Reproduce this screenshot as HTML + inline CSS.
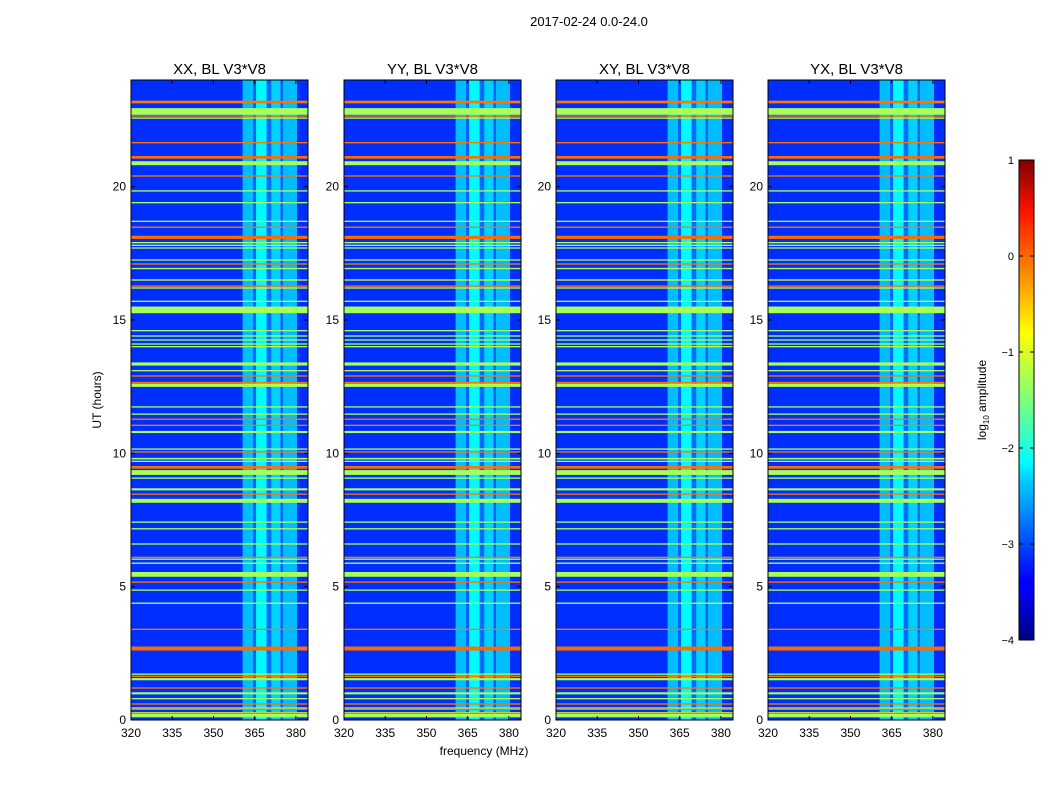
<!DOCTYPE html>
<html><head><meta charset="utf-8"><style>
body{margin:0;background:#fff;}
svg{display:block;font-family:"Liberation Sans",sans-serif;}
</style></head><body>
<svg id="fig" width="1050" height="800" viewBox="0 0 1050 800">
<defs><linearGradient id="jet" x1="0" y1="1" x2="0" y2="0">
<stop offset="0" stop-color="#00007f"/><stop offset="0.11" stop-color="#0000ff"/><stop offset="0.125" stop-color="#0000ff"/>
<stop offset="0.34" stop-color="#00d4ff"/><stop offset="0.37" stop-color="#00ffff"/><stop offset="0.5" stop-color="#7dff7a"/>
<stop offset="0.64" stop-color="#ffff00"/><stop offset="0.89" stop-color="#ff1400"/><stop offset="1" stop-color="#7f0000"/></linearGradient></defs>
<text x="589" y="26" font-size="13" text-anchor="middle">2017-02-24 0.0-24.0</text>
<text x="484" y="755" font-size="12" text-anchor="middle">frequency (MHz)</text>
<text transform="translate(101,400) rotate(-90)" font-size="12" text-anchor="middle">UT (hours)</text>
<g id="panels"></g>
<rect x="1019" y="160" width="15" height="480" fill="url(#jet)" stroke="#000" stroke-width="1"/>
<g id="cbar"></g>
<text transform="translate(986,400) rotate(-90)" font-size="12" text-anchor="middle">log<tspan font-size="8" dy="3">10</tspan><tspan dy="-3"> amplitude</tspan></text>
</svg>
<script>
const panelTitles = ["XX, BL V3*V8","YY, BL V3*V8","XY, BL V3*V8","YX, BL V3*V8"];
const baseValue = -3.15;
const bandStart = [360.6, 364.5, 365.5, 369.4, 371, 374.4, 375.3];
const bandEnd   = [364.5, 365.5, 369.4, 371, 374.4, 375.3, 380.4];
const bandValue = [-2.45, -2.9, -2.15, -2.85, -2.35, -2.9, -2.45];
const lineHour  = [23.2,23.15,22.82,22.65,22.57,21.65,21.1,20.88,20.4,19.84,19.4,18.7,18.48,18.1,17.9,17.8,17.7,17.25,17.1,16.93,16.5,16.27,16.2,15.7,15.38,14.6,14.4,14.25,14.1,14.0,13.35,13.1,12.9,12.65,12.55,11.74,11.47,11.28,11.05,10.8,10.16,10.05,9.8,9.7,9.5,9.45,9.28,9.07,8.65,8.47,8.22,7.42,7.17,6.6,6.1,6.03,5.88,5.46,5.17,4.87,4.38,3.4,2.68,1.72,1.64,1.53,1.2,1.0,0.8,0.6,0.45,0.4,0.2,0.25];
const lineWidth = [0.05,0.05,0.25,0.05,0.05,0.05,0.1,0.15,0.05,0.05,0.05,0.05,0.05,0.12,0.05,0.05,0.05,0.05,0.05,0.05,0.05,0.05,0.05,0.05,0.25,0.05,0.05,0.05,0.05,0.05,0.12,0.05,0.05,0.06,0.12,0.05,0.05,0.05,0.05,0.08,0.05,0.05,0.06,0.05,0.05,0.05,0.18,0.05,0.08,0.05,0.15,0.05,0.05,0.05,0.05,0.05,0.05,0.18,0.05,0.05,0.05,0.05,0.15,0.05,0.05,0.08,0.05,0.08,0.05,0.05,0.05,0.05,0.2,0.05];
const lineValue = [-0.2,-0.2,-1.3,-0.2,-1.3,-0.2,-0.15,-1.3,-0.2,-1.3,-1.3,-1.3,-0.2,-0.15,-1.3,-1.3,-1.3,-1.3,-0.2,-1.3,-1.1,-0.2,-1.3,-1.3,-1.3,-1.3,-1.3,-1.3,-1.3,-1.3,-1.3,-1.3,-0.2,-0.2,-1.3,-1.3,-1.3,-0.2,-0.2,-1.3,-1.3,-0.2,-1.3,-1.3,-0.2,-0.2,-1.3,-1.3,-1.3,-0.2,-1.3,-1.3,-1.3,-1.3,-0.2,-1.3,-1.3,-1.3,-0.2,-1.3,-1.3,-0.2,-0.15,-1.3,-0.2,-1.3,-0.2,-1.3,-1.3,-0.2,-1.3,-0.2,-1.3,-0.2];
const xTicks = [320,335,350,365,380];
const yTicks = [0,5,10,15,20];
const cbTicks = [1,0,-1,-2,-3,-4];

const NS="http://www.w3.org/2000/svg";
const panelLeft=[131,344,556,768], PW=177, PT=80, PB=720;
const fMin=320, fMax=384.4, hMin=0, hMax=24, vMin=-4, vMax=1;
function jet(v){const t=Math.max(0,Math.min(1,(v-vMin)/(vMax-vMin)));
 const c=x=>Math.round(255*Math.max(0,Math.min(1,1.5-Math.abs(x))));
 return `rgb(${c(4*t-3)},${c(4*t-2)},${c(4*t-1)})`;}
function mk(tag,attrs,parent){const e=document.createElementNS(NS,tag);for(const k in attrs)e.setAttribute(k,attrs[k]);parent.appendChild(e);return e;}
const yScale=h=>PB-(h-hMin)/(hMax-hMin)*(PB-PT);
const panels=document.getElementById('panels');
panelTitles.forEach((title,p)=>{
 const L=panelLeft[p];
 const xScale=f=>L+(f-fMin)/(fMax-fMin)*PW;
 const g=mk('g',{},panels);
 
 
 const bg=mk('rect',{x:L,y:PT,width:PW,height:PB-PT,fill:jet(baseValue)},g);
 
 
 bandStart.forEach((s,i)=>{
  const r=mk('rect',{x:xScale(s),y:PT,width:xScale(bandEnd[i])-xScale(s),height:PB-PT,fill:jet(bandValue[i])},g);
  
  
 });
 lineHour.forEach((h,i)=>{
  const y1=yScale(h+lineWidth[i]/2), y2=yScale(h-lineWidth[i]/2);
  const r=mk('rect',{x:L,y:y1,width:PW,height:Math.max(1.2,y2-y1),fill:jet(lineValue[i])},g);
  
  
 });
 const fr=mk('rect',{x:L,y:PT,width:PW,height:PB-PT,fill:'none',stroke:'#000','stroke-width':1},g);
 
 
 const t=mk('text',{x:L+PW/2,y:74,'font-size':15,'text-anchor':'middle'},g);t.textContent=title;
 
 
 xTicks.forEach(f=>{const x=xScale(f);
  mk('line',{x1:x,x2:x,y1:PB,y2:PB-4,stroke:'#000'},g);mk('line',{x1:x,x2:x,y1:PT,y2:PT+4,stroke:'#000'},g);
  const tx=mk('text',{x:x,y:737,'font-size':12,'text-anchor':'middle'},g);tx.textContent=f;
  
  });
 yTicks.forEach(h=>{const y=yScale(h);
  mk('line',{x1:L,x2:L+4,y1:y,y2:y,stroke:'#000'},g);mk('line',{x1:L+PW,x2:L+PW-4,y1:y,y2:y,stroke:'#000'},g);
  const ty=mk('text',{x:L-5,y:y+4,'font-size':12,'text-anchor':'end'},g);ty.textContent=h;
  
  });
});
const cb=document.getElementById('cbar');
cbTicks.forEach(v=>{const y=640-(v-vMin)/(vMax-vMin)*480;
 mk('line',{x1:1019,x2:1023,y1:y,y2:y,stroke:'#000'},cb);mk('line',{x1:1034,x2:1030,y1:y,y2:y,stroke:'#000'},cb);
 const t=mk('text',{x:1014,y:y+4,'font-size':11,'text-anchor':'end'},cb);t.textContent=v<0?'\u2212'+(-v):v;
 
 });
</script>
</body></html>
